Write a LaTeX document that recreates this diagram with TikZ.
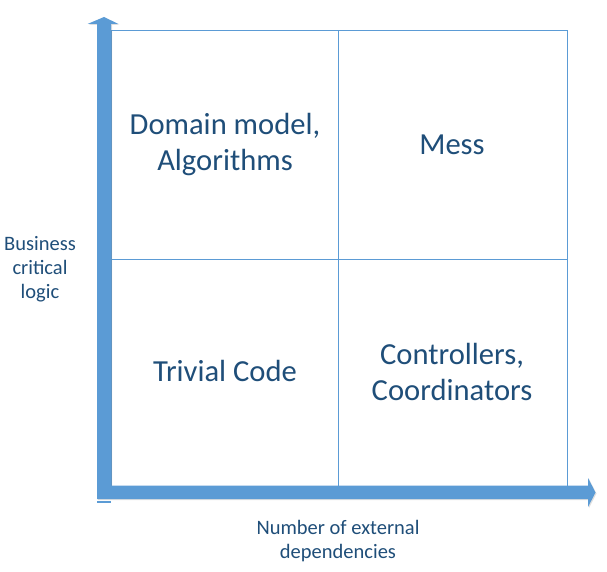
\documentclass[tikz,border=0pt]{standalone}
\usepackage{fontspec}
\setmainfont{Carlito}
\usetikzlibrary{shadows}
\definecolor{axisblue}{HTML}{5B9BD5}
\definecolor{textblue}{HTML}{1F4E79}
\tikzset{
  big/.style={text=textblue, align=center, font=\fontsize{30.6}{36}\selectfont},
  small/.style={text=textblue, align=center, font=\fontsize{20.5}{24}\selectfont},
  gridline/.style={draw=axisblue, line width=1pt},
  axisarrow/.style={fill=axisblue, draw=none, drop shadow={opacity=0.25, shadow xshift=1pt, shadow yshift=-1pt}}
}
\begin{document}
\begin{tikzpicture}[x=1pt, y=-1pt]
\useasboundingbox (0,0) rectangle (607,572);
\fill[white] (0,0) rectangle (607,572);
% grid
\draw[gridline] (111,31) rectangle (567,486);
\draw[gridline] (338,31) -- (338,486);
\draw[gridline] (111,259) -- (567,259);
% axes
\path[axisarrow] (97,498.5) -- (97,24) -- (87.5,24) -- (104,17) -- (118.5,24) -- (111,24) -- (111,485.5) -- (588,485.5) -- (588,478) -- (595.5,492.5) -- (588,507) -- (588,499) -- (97,499) -- cycle;
\draw[axisblue, line width=1.2pt] (97,502) -- (111,502);
% labels
\node[big] (dm) at (225,145) {Domain model,\\Algorithms};
\node[big] (mess) at (452,145) {Mess};
\node[big] (triv) at (225,371) {Trivial Code};
\node[big] (ctrl) at (452,372) {Controllers,\\Coordinators};
\node[small] (ylab) at (40,269) {Business\\critical\\logic};
\node[small] (xlab) at (338,541) {Number of external\\dependencies};
\end{tikzpicture}
\end{document}
